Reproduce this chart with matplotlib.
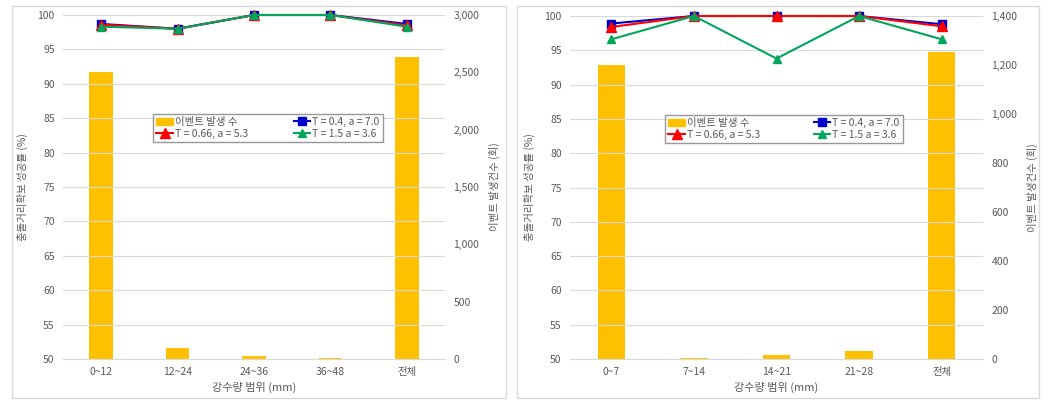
import matplotlib
matplotlib.use("Agg")
import matplotlib.pyplot as plt
from matplotlib.patches import Rectangle
import numpy as np

plt.rcParams['font.family'] = ['Noto Sans CJK KR', 'DejaVu Sans']

# 왼쪽 차트 (0~48 mm)
cats_left = ['0~12', '12~24', '24~36', '36~48', '전체']
events_left = [2500, 100, 30, 5, 2630]
blue_left = [98.7, 98.0, 100.0, 100.0, 98.7]
red_left = [98.6, 98.0, 100.0, 100.0, 98.5]
green_left = [98.3, 98.0, 100.0, 100.0, 98.3]

# 오른쪽 차트 (0~28 mm)
cats_right = ['0~7', '7~14', '14~21', '21~28', '전체']
events_right = [1200, 3, 17, 33, 1253]
blue_right = [98.9, 100.0, 100.0, 100.0, 98.8]
red_right = [98.4, 100.0, 100.0, 100.0, 98.5]
green_right = [96.6, 100.0, 93.8, 100.0, 96.6]

labels = ['이벤트 발생 수', 'T = 0.4, a = 7.0', 'T = 0.66, a = 5.3', 'T = 1.5 a = 3.6']
txt = '#595959'
W, H = 1056, 412

fig = plt.figure(figsize=(W / 100, H / 100), dpi=100)

def box(x0, y0, x1, y1):
    return [x0 / W, 1 - y1 / H, (x1 - x0) / W, (y1 - y0) / H]

def panel(rect_px, ax_px, cats, events, blue, red, green, ymax2, step2, bw, leg_px):
    x0, y0, x1, y1 = rect_px
    fig.patches.append(Rectangle((x0 / W, 1 - y1 / H), (x1 - x0) / W, (y1 - y0) / H,
                                 transform=fig.transFigure, fill=False,
                                 edgecolor='#d9d9d9', linewidth=1))
    ax = fig.add_axes(box(*ax_px))
    ax2 = ax.twinx()
    x = np.arange(len(cats))
    ax2.bar(x, events, width=bw, color='#ffc000', zorder=1)
    ax2.set_ylim(0, ymax2)
    ax2.set_yticks(np.arange(0, ymax2 + 1, step2))
    ax2.yaxis.set_major_formatter(matplotlib.ticker.FuncFormatter(lambda v, p: f'{int(v):,}'))
    # 선은 막대 위에 그리기
    ax.set_zorder(ax2.get_zorder() + 1)
    ax.patch.set_visible(False)
    ax.set_ylim(50, 100)
    ax.set_yticks(np.arange(50, 101, 5))
    ax.set_xlim(-0.5, len(cats) - 0.5)
    ax.grid(axis='y', color='#d9d9d9', linewidth=0.8)
    ax.set_axisbelow(True)
    hb, = ax.plot(x, blue, color='#0000cc', marker='s', markersize=6, lw=1.5, zorder=3, clip_on=False)
    hr, = ax.plot(x, red, color='#ff0000', marker='^', markersize=7, lw=1.5, zorder=4, clip_on=False)
    hg, = ax.plot(x, green, color='#00a65a', marker='^', markersize=6, lw=1.5, zorder=5, clip_on=False)
    ax.set_xticks(x)
    ax.set_xticklabels(cats)
    for a in (ax, ax2):
        for s in a.spines.values():
            s.set_visible(False)
        a.tick_params(length=0, labelsize=7.5, colors=txt, pad=6)
    ax.spines['bottom'].set_visible(True)
    ax.spines['bottom'].set_color('#d9d9d9')
    ax.set_ylabel('충돌거리확보 성공률 (%)', fontsize=7.5, color=txt, labelpad=7)
    ax2.set_ylabel('이벤트 발생건수 (회)', fontsize=7.5, color=txt, labelpad=7)
    ax.set_xlabel('강수량 범위 (mm)', fontsize=8, color=txt, labelpad=3)
    hbar = Rectangle((0, 0), 1, 1, color='#ffc000')
    lx0, ly0, lx1, ly1 = leg_px
    leg = fig.legend([hbar, hr, hb, hg], [labels[0], labels[2], labels[1], labels[3]],
                     ncol=2, loc='center', fontsize=7.5,
                     bbox_to_anchor=box(lx0, ly0, lx1, ly1), bbox_transform=fig.transFigure,
                     mode='expand', frameon=True, fancybox=False, edgecolor='#7f7f7f',
                     handlelength=1.6, handletextpad=0.2, borderpad=0.3,
                     labelspacing=0.2, columnspacing=1.0)
    leg.get_frame().set_linewidth(1)
    for t in leg.get_texts():
        t.set_color(txt)

panel((12, 6, 506, 398), (63, 15, 445, 359), cats_left, events_left,
      blue_left, red_left, green_left, 3000, 500, 0.31, (148, 112, 388, 144))
panel((517, 6, 1039, 398), (570, 16, 983, 359), cats_right, events_right,
      blue_right, red_right, green_right, 1400, 200, 0.33, (660, 113, 908, 145))

fig.savefig('out.png', dpi=100)
